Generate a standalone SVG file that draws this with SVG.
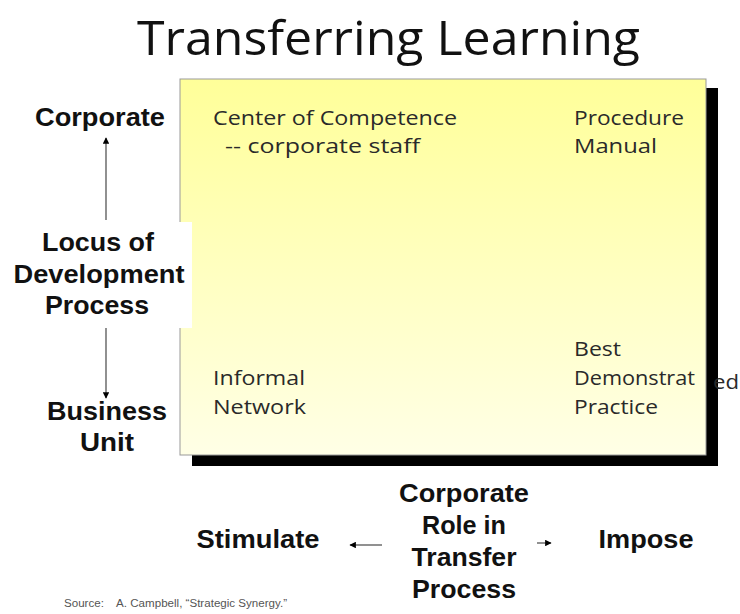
<svg xmlns="http://www.w3.org/2000/svg" width="740" height="614" viewBox="0 0 740 614">
  <defs>
    <linearGradient id="panelFill" x1="0" y1="0" x2="0" y2="1">
      <stop offset="0" stop-color="#ffff99"/>
      <stop offset="1" stop-color="#ffffe6"/>
    </linearGradient>
    <marker id="head" viewBox="0 0 10 10" refX="9" refY="5" markerWidth="5" markerHeight="5" orient="auto-start-reverse">
      <path d="M0,0 L10,5 L0,10 z" fill="#000"/>
    </marker>
    <style>
      .title { font-family: "Open Sans", "Noto Sans", sans-serif; font-size: 48px; fill: #111; }
      .axis { font-family: "Liberation Sans", Arial, sans-serif; font-weight: bold; font-size: 25px; fill: #111; text-anchor: middle; }
      .cell { font-family: "Open Sans", "Noto Sans", sans-serif; font-size: 20px; fill: #2a2a2a; }
      .src { font-family: "Liberation Sans", Arial, sans-serif; font-size: 10px; fill: #555; }
      .conn { stroke: #555; stroke-width: 1.3; fill: none; marker-end: url(#head); }
    </style>
  </defs>

  <rect width="740" height="614" fill="#fff"/>

  <text class="title" x="137" y="55" textLength="503" lengthAdjust="spacingAndGlyphs">Transferring Learning</text>

  <!-- matrix panel with drop shadow -->
  <g id="panel">
    <rect x="192" y="88" width="526" height="378" fill="#000"/>
    <rect x="180" y="79" width="526" height="376" fill="url(#panelFill)" stroke="#999" stroke-width="1"/>
  </g>

  <g id="cell-center">
    <text class="cell" x="213" y="125" textLength="244" lengthAdjust="spacingAndGlyphs">Center of Competence</text>
    <text class="cell" x="225" y="153" textLength="195" lengthAdjust="spacingAndGlyphs">--  corporate staff</text>
  </g>
  <g id="cell-procedure">
    <text class="cell" x="574" y="125" textLength="110" lengthAdjust="spacingAndGlyphs">Procedure</text>
    <text class="cell" x="574" y="153" textLength="83" lengthAdjust="spacingAndGlyphs">Manual</text>
  </g>
  <g id="cell-informal">
    <text class="cell" x="213" y="385" textLength="92" lengthAdjust="spacingAndGlyphs">Informal</text>
    <text class="cell" x="213" y="414" textLength="93" lengthAdjust="spacingAndGlyphs">Network</text>
  </g>
  <g id="cell-best">
    <text class="cell" x="574" y="356" textLength="47" lengthAdjust="spacingAndGlyphs">Best</text>
    <text class="cell" x="574" y="385" textLength="121" lengthAdjust="spacingAndGlyphs">Demonstrat</text>
    <text class="cell" x="713" y="389" textLength="26" lengthAdjust="spacingAndGlyphs">ed</text>
    <text class="cell" x="574" y="414" textLength="84" lengthAdjust="spacingAndGlyphs">Practice</text>
  </g>

  <!-- vertical axis -->
  <g id="axis-corporate">
    <text class="axis" x="100" y="126" textLength="130" lengthAdjust="spacingAndGlyphs">Corporate</text>
  </g>
  <g id="axis-locus">
    <rect x="0" y="222" width="192" height="106" fill="#fff"/>
    <text class="axis" x="98" y="251" textLength="112" lengthAdjust="spacingAndGlyphs">Locus of</text>
    <text class="axis" x="99" y="283" textLength="171" lengthAdjust="spacingAndGlyphs">Development</text>
    <text class="axis" x="97" y="314" textLength="104" lengthAdjust="spacingAndGlyphs">Process</text>
  </g>
  <g id="axis-business">
    <text class="axis" x="107" y="420" textLength="120" lengthAdjust="spacingAndGlyphs">Business</text>
    <text class="axis" x="107" y="451" textLength="54" lengthAdjust="spacingAndGlyphs">Unit</text>
  </g>

  <!-- horizontal axis -->
  <g id="axis-stimulate">
    <text class="axis" x="258" y="548" textLength="123" lengthAdjust="spacingAndGlyphs">Stimulate</text>
  </g>
  <g id="axis-role">
    <text class="axis" x="464" y="502" textLength="130" lengthAdjust="spacingAndGlyphs">Corporate</text>
    <text class="axis" x="464" y="534" textLength="84" lengthAdjust="spacingAndGlyphs">Role in</text>
    <text class="axis" x="464" y="566" textLength="105" lengthAdjust="spacingAndGlyphs">Transfer</text>
    <text class="axis" x="464" y="598" textLength="104" lengthAdjust="spacingAndGlyphs">Process</text>
  </g>
  <g id="axis-impose">
    <text class="axis" x="646" y="548" textLength="95" lengthAdjust="spacingAndGlyphs">Impose</text>
  </g>

  <g id="connectors">
    <line class="conn" x1="106" y1="220" x2="106" y2="138"/>
    <line class="conn" x1="106" y1="328" x2="106" y2="398"/>
    <line class="conn" x1="382" y1="545" x2="350" y2="545"/>
    <line class="conn" x1="537" y1="543" x2="551" y2="543"/>
  </g>

  <text class="src" x="64" y="607" xml:space="preserve" textLength="223" lengthAdjust="spacingAndGlyphs">Source:    A. Campbell, “Strategic Synergy.”</text>
</svg>
